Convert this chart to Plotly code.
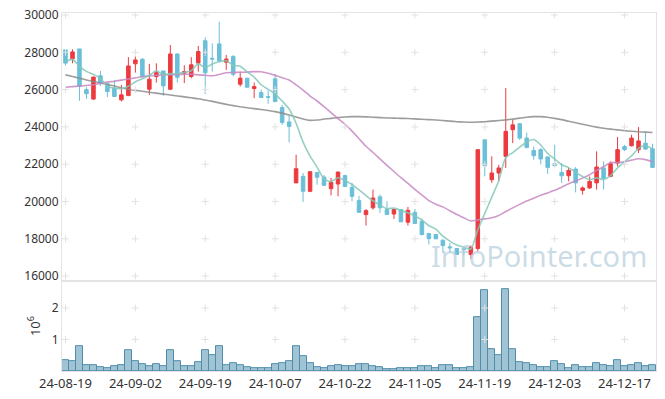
import plotly.graph_objects as go
from plotly.subplots import make_subplots

dates = [
    "2024-08-19", "2024-08-20", "2024-08-21", "2024-08-22", "2024-08-23",
    "2024-08-26", "2024-08-27", "2024-08-28", "2024-08-29", "2024-08-30",
    "2024-09-02", "2024-09-03", "2024-09-04", "2024-09-05", "2024-09-06",
    "2024-09-09", "2024-09-10", "2024-09-11", "2024-09-12", "2024-09-13",
    "2024-09-19", "2024-09-20", "2024-09-23", "2024-09-24", "2024-09-25",
    "2024-09-26", "2024-09-27", "2024-09-30", "2024-10-02", "2024-10-04",
    "2024-10-07", "2024-10-08", "2024-10-10", "2024-10-11", "2024-10-14",
    "2024-10-15", "2024-10-16", "2024-10-17", "2024-10-18", "2024-10-21",
    "2024-10-22", "2024-10-23", "2024-10-24", "2024-10-25", "2024-10-28",
    "2024-10-29", "2024-10-30", "2024-10-31", "2024-11-01", "2024-11-04",
    "2024-11-05", "2024-11-06", "2024-11-07", "2024-11-08", "2024-11-11",
    "2024-11-12", "2024-11-13", "2024-11-14", "2024-11-15", "2024-11-18",
    "2024-11-19", "2024-11-20", "2024-11-21", "2024-11-22", "2024-11-25",
    "2024-11-26", "2024-11-27", "2024-11-28", "2024-11-29", "2024-12-02",
    "2024-12-03", "2024-12-04", "2024-12-05", "2024-12-06", "2024-12-09",
    "2024-12-10", "2024-12-11", "2024-12-12", "2024-12-13", "2024-12-16",
    "2024-12-17", "2024-12-18", "2024-12-19", "2024-12-20", "2024-12-23",
]

open_ = [
    28130, 27650, 28180, 26000, 25490, 26740, 26310, 26080, 25450, 25680,
    27380, 27630, 26020, 26700, 27000, 26020, 27910, 26880, 26700, 27420,
    28620, 27680, 28450, 27470, 27770, 26290, 26610, 26060, 25840, 25620,
    26580, 25040, 24270, 21000, 21350, 20550, 21560, 21310, 20690, 20940,
    21390, 20760, 20050, 19300, 19660, 20250, 19570, 19330, 19570, 18890,
    19420, 18940, 18280, 18230, 17930, 17570, 17480, 17480, 17160, 17480,
    23310, 21170, 21530, 22420, 23850, 24170, 23400, 22740, 22780, 22390,
    22030, 21560, 21380, 21740, 20600, 20730, 21000, 21800, 21350, 22060,
    22950, 22990, 22780, 23130, 22830,
]
high = [
    28140, 28160, 28180, 26130, 26700, 27000, 26350, 26520, 26250, 27740,
    27770, 27680, 27380, 27410, 27000, 28390, 27950, 27310, 27740, 28340,
    28800, 28480, 29640, 27860, 27860, 26970, 26640, 26380, 26000, 25950,
    26840, 25180, 24600, 22510, 21530, 21600, 21560, 21420, 21260, 21600,
    21440, 21000, 20300, 19600, 20640, 20370, 20010, 19570, 19570, 19710,
    19600, 19080, 18320, 18230, 17960, 17780, 17500, 17570, 17640, 22780,
    23310, 22420, 21970, 26080, 24380, 24200, 23700, 22950, 22860, 22420,
    23040, 22060, 21800, 21850, 20810, 21340, 22690, 22150, 22150, 23460,
    23040, 23580, 23990, 23700, 23100,
]
low = [
    27290, 27410, 25400, 25500, 25470, 26200, 25600, 25630, 25360, 25650,
    26910, 26650, 25720, 26380, 25670, 25980, 26380, 26350, 26610, 26970,
    25760, 26970, 27500, 27060, 26710, 26160, 26100, 25540, 25580, 25240,
    25330, 24110, 23170, 21000, 19980, 20500, 20900, 20860, 20330, 20280,
    20770, 20010, 19400, 18710, 19570, 19390, 19300, 19070, 18910, 18710,
    18820, 18180, 17700, 18000, 17250, 17250, 17160, 17110, 16930, 17340,
    21350, 21000, 21080, 21800, 23130, 23300, 22850, 22240, 21990, 21480,
    21880, 21000, 21080, 20490, 20370, 20680, 20640, 20640, 21300, 21880,
    22700, 22950, 22600, 22780, 21800,
]
close = [
    27420, 28020, 26170, 25780, 26670, 26380, 25900, 25630, 25720, 27270,
    27590, 26700, 26560, 26910, 26200, 27910, 26660, 26970, 27330, 28040,
    26900, 27640, 27540, 27640, 26820, 26610, 26130, 26160, 25580, 25590,
    25360, 24240, 24020, 21760, 20550, 21600, 21300, 20870, 21030, 21580,
    20810, 20280, 19420, 19510, 20190, 19660, 19300, 19570, 18910, 19530,
    18820, 18230, 18010, 18000, 17640, 17520, 17160, 17420, 17550, 22780,
    21920, 21530, 21800, 23760, 24110, 23400, 22900, 22460, 22280, 21830,
    21920, 21380, 21670, 21000, 20730, 21080, 21850, 21260, 22030, 22780,
    22780, 23400, 23250, 22810, 21830,
]

ma5 = [
    27500, 27620, 27250, 26980, 26812, 26604, 26180, 26072, 26060, 26180,
    26422, 26582, 26768, 27006, 26792, 26856, 26848, 26930, 27014, 27382,
    27180, 27376, 27490, 27552, 27308, 27250, 26948, 26672, 26260, 26014,
    25764, 25386, 24958, 24194, 23186, 22434, 21846, 21216, 21070, 21276,
    21118, 20914, 20624, 20320, 20042, 19812, 19616, 19646, 19526, 19394,
    19226, 19012, 18700, 18518, 18140, 17880, 17666, 17544, 17454, 18482,
    19362, 20236, 21116, 22358, 22624, 22920, 23194, 23326, 23030, 22574,
    22278, 21974, 21816, 21560, 21340, 21172, 21266, 21184, 21390, 21800,
    22140, 22450, 22848, 23002, 22812,
]
ma20 = [
    26130, 26160, 26190, 26220, 26260, 26330, 26400, 26450, 26510, 26570,
    26630, 26690, 26730, 26770, 26790, 26800, 26810, 26820, 26820, 26792,
    26766, 26747, 26815, 26908, 26916, 26927, 26939, 26965, 26958, 26874,
    26763, 26640, 26513, 26255, 25973, 25657, 25389, 25084, 24769, 24446,
    24142, 23774, 23368, 22961, 22630, 22282, 21941, 21611, 21278, 20975,
    20648, 20347, 20047, 19859, 19713, 19509, 19302, 19129, 18955, 19015,
    19070, 19133, 19252, 19464, 19660, 19847, 20027, 20172, 20340, 20455,
    20610, 20768, 20951, 21101, 21255, 21433, 21668, 21861, 22085, 22085,
    22128, 22221, 22294, 22246, 22132,
]
ma60 = [
    26790, 26700, 26610, 26520, 26430, 26350, 26270, 26190, 26100, 26020,
    25960, 25910, 25860, 25810, 25760, 25710, 25660, 25610, 25560, 25510,
    25440, 25370, 25290, 25210, 25140, 25080, 25030, 24980, 24930, 24880,
    24820, 24740, 24640, 24530, 24420, 24350, 24370, 24420, 24460, 24500,
    24530, 24550, 24550, 24540, 24520, 24500, 24480, 24470, 24460, 24450,
    24430, 24410, 24390, 24370, 24340, 24310, 24280, 24260, 24250, 24260,
    24280, 24310, 24340, 24380, 24420, 24470, 24520, 24550, 24550, 24520,
    24460, 24390, 24300, 24220, 24140, 24060, 23990, 23930, 23880, 23840,
    23800, 23770, 23740, 23720, 23700,
]

volume = [
    0.35, 0.30, 0.80, 0.19, 0.19, 0.13, 0.10, 0.16, 0.19, 0.67,
    0.32, 0.22, 0.16, 0.22, 0.16, 0.67, 0.32, 0.16, 0.16, 0.29,
    0.67, 0.51, 0.80, 0.19, 0.26, 0.19, 0.13, 0.10, 0.10, 0.10,
    0.22, 0.26, 0.32, 0.80, 0.48, 0.26, 0.13, 0.10, 0.16, 0.19,
    0.14, 0.16, 0.22, 0.22, 0.16, 0.13, 0.06, 0.06, 0.10, 0.10,
    0.10, 0.16, 0.16, 0.10, 0.19, 0.19, 0.10, 0.10, 0.13, 1.72,
    2.56, 0.70, 0.51, 2.59, 0.70, 0.29, 0.26, 0.19, 0.13, 0.13,
    0.32, 0.22, 0.10, 0.19, 0.13, 0.13, 0.26, 0.19, 0.16, 0.35,
    0.16, 0.19, 0.26, 0.16, 0.19,
]  # millions of shares

price_ticks = [16000, 18000, 20000, 22000, 24000, 26000, 28000, 30000]
vol_ticks = [1, 2]
x_tick_dates = dates[::10]
x_tick_labels = [d[2:] for d in x_tick_dates]

UP = "#ec3a3f"
DOWN = "#6bbfd8"
GRID = "#e2e2e2"
AXIS = "#e4e4e4"
FONT = "Noto Sans"

fig = make_subplots(rows=2, cols=1, shared_xaxes=True, vertical_spacing=0.0,
                    row_heights=[0.749, 0.251])

fig.add_trace(go.Bar(x=dates, y=[v * 1e6 for v in volume],
                     marker=dict(color="rgba(130,176,199,0.75)",
                                 line=dict(color="#4f8dab", width=1)),
                     showlegend=False, name="Volume"), row=2, col=1)

fig.add_trace(go.Candlestick(
    x=dates, open=open_, high=high, low=low, close=close,
    increasing=dict(line=dict(color=UP, width=1), fillcolor=UP),
    decreasing=dict(line=dict(color=DOWN, width=1), fillcolor=DOWN),
    whiskerwidth=0, showlegend=False, name="Price"), row=1, col=1)

for vals, col in ((ma60, "rgba(140,140,140,0.85)"),
                  (ma20, "rgba(200,135,195,0.85)"),
                  (ma5, "rgba(130,200,185,0.85)")):
    fig.add_trace(go.Scatter(x=dates, y=vals, mode="lines",
                             line=dict(color=col, width=1.6, shape="spline", smoothing=0.6),
                             hoverinfo="skip", showlegend=False), row=1, col=1)

# grid crosses at tick intersections
for row, yt in ((1, price_ticks), (2, [v * 1e6 for v in vol_ticks])):
    xs, ys = [], []
    for d in x_tick_dates:
        for v in yt:
            xs.append(d)
            ys.append(v)
    fig.add_trace(go.Scatter(x=xs, y=ys, mode="markers", hoverinfo="skip",
                             marker=dict(symbol="cross-thin", size=5,
                                         line=dict(color=GRID, width=1)),
                             showlegend=False), row=row, col=1)

fig.update_layout(
    width=665, height=399,
    margin=dict(l=62, r=9, t=13, b=28, autoexpand=False),
    paper_bgcolor="white", plot_bgcolor="white",
    font=dict(family=FONT, size=12, color="#333333"),
    bargap=0, boxgap=0.28,
    showlegend=False,
    annotations=[dict(text="InfoPointer.com", xref="paper", yref="paper",
                      x=0.988, y=0.322, xanchor="right", yanchor="middle",
                      showarrow=False,
                      font=dict(family=FONT, size=29, color="rgba(180,205,220,0.7)"))],
)

common_x = dict(type="category", categoryorder="array", categoryarray=dates,
                range=[-0.5, len(dates) - 0.5], automargin=False,
                showgrid=False, zeroline=False, showline=True, mirror=True,
                linecolor=AXIS, linewidth=1, ticks="",
                tickvals=x_tick_dates, ticktext=x_tick_labels, tickangle=0,
                rangeslider=dict(visible=False))
fig.update_xaxes(**common_x, row=1, col=1)
fig.update_xaxes(**common_x, row=2, col=1)
fig.update_xaxes(showticklabels=False, row=1, col=1)
fig.update_xaxes(showticklabels=True, tickfont=dict(size=13), row=2, col=1)

fig.update_yaxes(range=[15732, 30107], tickvals=price_ticks,
                 ticktext=[str(v) for v in price_ticks], automargin=False,
                 ticklabeloverflow="allow",
                 showgrid=False, zeroline=False, showline=True, mirror=True,
                 linecolor=AXIS, ticks="", row=1, col=1)
fig.update_yaxes(range=[0, 2.85e6], tickvals=[v * 1e6 for v in vol_ticks],
                 ticktext=[str(v) for v in vol_ticks], automargin=False,
                 showgrid=False, zeroline=False, showline=True, mirror=True,
                 linecolor=AXIS, ticks="",
                 title=dict(text="10<sup>6</sup>", standoff=8, font=dict(size=13)),
                 row=2, col=1)

# remove the default 8px page margin so the figure fills the window exactly
fig.write_html("out.html", config={"displayModeBar": False},
               post_script="document.body.style.margin='0';")
